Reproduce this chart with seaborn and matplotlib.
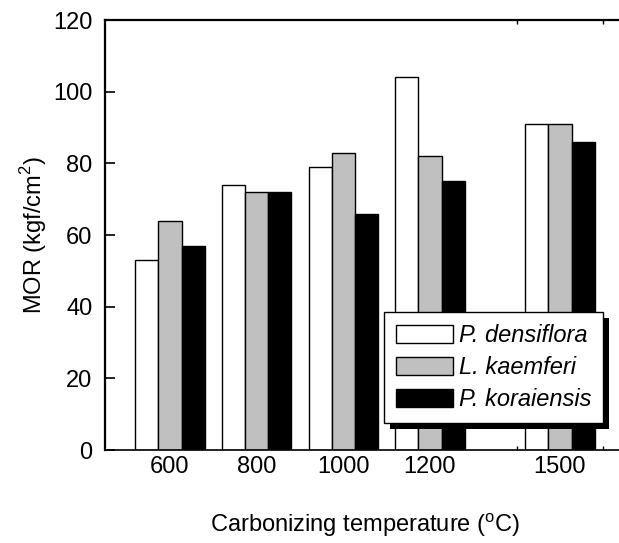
import matplotlib
matplotlib.use("Agg")
import matplotlib.pyplot as plt
import seaborn as sns
import pandas as pd
from matplotlib.ticker import FixedLocator
from matplotlib.patches import Rectangle
from matplotlib.transforms import IdentityTransform

sns.set_theme(style="white")
plt.rcParams['font.family'] = ['Liberation Sans', 'DejaVu Sans']
plt.rcParams['mathtext.fontset'] = 'custom'
plt.rcParams['mathtext.rm'] = 'Liberation Sans'
plt.rcParams['text.color'] = 'black'
plt.rcParams['axes.labelcolor'] = 'black'
plt.rcParams['xtick.color'] = 'black'
plt.rcParams['ytick.color'] = 'black'

# Data
temperatures = ["600", "800", "1000", "1200", "1500"]
species = ["P. densiflora", "L. kaemferi", "P. koraiensis"]
p_densiflora = [53, 74, 79, 104, 91]
l_kaemferi = [64, 72, 83, 82, 91]
p_koraiensis = [57, 72, 66, 75, 86]

# Layout (group positions on axis)
group_pos = [1, 2, 3, 4, 5.5]

rows = []
for sp, vals in zip(species, [p_densiflora, l_kaemferi, p_koraiensis]):
    for pos, v in zip(group_pos, vals):
        rows.append({"pos": pos, "species": sp, "MOR": v})
df = pd.DataFrame(rows)

FS = 17
fig = plt.figure(figsize=(6.19, 5.43), dpi=100)
ax = fig.add_axes([0.1696, 0.171, 0.84, 0.792])

palette = {"P. densiflora": "white", "L. kaemferi": "#c0c0c0", "P. koraiensis": "black"}
sns.barplot(data=df, x="pos", y="MOR", hue="species", hue_order=species,
            palette=palette, native_scale=True, width=0.8, gap=0,
            edgecolor="black", linewidth=1.0, saturation=1, ax=ax, legend=True)

ax.set_xlim(0.25, 6.25)
ax.set_ylim(0, 120)
ax.set_yticks(range(0, 121, 20))

ax.xaxis.set_major_locator(FixedLocator(group_pos))
ax.set_xticklabels(temperatures)
ax.xaxis.set_minor_locator(FixedLocator([1, 2, 3, 4, 5, 6]))
ax.tick_params(axis='x', which='major', length=0, labelsize=FS, pad=4, colors='black')
ax.tick_params(axis='x', which='minor', length=3, direction='in', top=True, bottom=True, width=1)
ax.tick_params(axis='y', which='major', length=7, direction='in', width=1.2, labelsize=FS, pad=9,
               left=True, colors='black')

for s in ax.spines.values():
    s.set_color('black')
    s.set_linewidth(1.6)
ax.spines['bottom'].set_linewidth(1.2)

ax.set_xlabel("Carbonizing temperature ($^{\\mathrm{o}}$C)", fontsize=FS, labelpad=24)
ax.set_ylabel("MOR (kgf/cm$^{2}$)", fontsize=FS, labelpad=3)

leg = ax.legend(loc='lower right', bbox_to_anchor=(0.958, 0.063), frameon=True,
                fancybox=False, shadow=False,
                prop={'style': 'italic', 'size': FS}, handlelength=2.4, handleheight=0.75,
                handletextpad=0.25, labelspacing=0.38, borderpad=0.5, borderaxespad=0)
leg.get_frame().set_edgecolor('black')
leg.get_frame().set_linewidth(1.0)
leg.get_frame().set_alpha(1)
for h in leg.legend_handles:
    h.set_edgecolor('black')
    h.set_linewidth(1.0)

# custom offset shadow behind legend
fig.canvas.draw()
bb = leg.get_frame().get_window_extent()
shadow = Rectangle((bb.x0 + 6, bb.y0 - 6), bb.width, bb.height, transform=IdentityTransform(),
                   facecolor='black', edgecolor='none', zorder=4.9, clip_on=False)
ax.add_patch(shadow)

fig.savefig("out.png", dpi=100)
